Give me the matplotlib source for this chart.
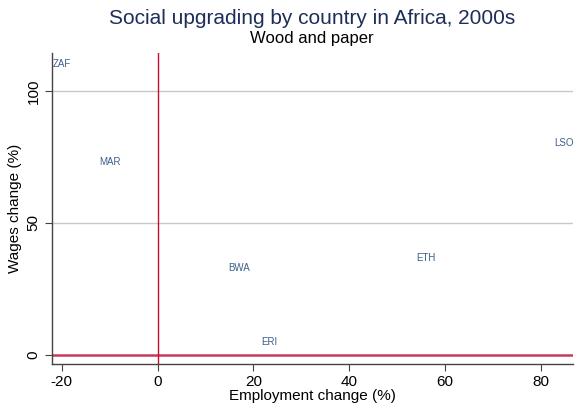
import matplotlib.pyplot as plt

countries = ["ZAF", "MAR", "BWA", "ERI", "ETH", "LSO"]
employment = [-22.0, -12.3, 14.6, 21.4, 53.9, 82.6]
wages = [110.2, 73.2, 33.0, 4.9, 36.6, 80.2]

x_ticks = [-20, 0, 20, 40, 60, 80]
y_ticks = [0, 50, 100]

plt.rcParams["font.family"] = ["Liberation Sans", "DejaVu Sans"]
plt.rcParams["axes.unicode_minus"] = False

fig = plt.figure(figsize=(5.75, 4.12), dpi=100)
ax_rect = [0.0899, 0.1165, 0.906, 0.7549]
ax = fig.add_axes(ax_rect)

# gridlines and reference lines
for y in y_ticks[1:]:
    ax.axhline(y, color="#c8c8c8", lw=1.0, zorder=1)
ax.axhline(0, color="#c63a5c", lw=1.8, zorder=2)
ax.axvline(0, color="#c8102e", lw=1.0, zorder=2)

# country labels (no markers, label to the right of the point)
ax.scatter(employment, wages, s=0)
for c, x, y in zip(countries, employment, wages):
    ax.annotate(c, (x, y), xytext=(0.5, 0), textcoords="offset points",
                ha="left", va="center", fontsize=7, color="#3d5f8a",
                annotation_clip=False)

ax.set_xlim(-22.1, 86.6)
ax.set_ylim(-3.5, 114.4)
ax.set_xticks(x_ticks)
ax.set_yticks(y_ticks)
ax.tick_params(axis="both", labelsize=11, length=5, width=0.8, color="#444444", pad=3)
plt.setp(ax.get_yticklabels(), rotation=90, va="center")

for side in ["top", "right"]:
    ax.spines[side].set_visible(False)
for side in ["left", "bottom"]:
    ax.spines[side].set_color("#444444")
    ax.spines[side].set_linewidth(1.0)

ax.set_xlabel("Employment change (%)", fontsize=11, labelpad=0)
ax.set_ylabel("Wages change (%)", fontsize=11, labelpad=3)

cx = ax_rect[0] + ax_rect[2] / 2
fig.text(cx, 0.956, "Social upgrading by country in Africa, 2000s",
         ha="center", va="center", fontsize=15, color="#1e2d5a")
fig.text(cx, 0.907, "Wood and paper", ha="center", va="center", fontsize=12)

fig.savefig("out.png", dpi=100)
